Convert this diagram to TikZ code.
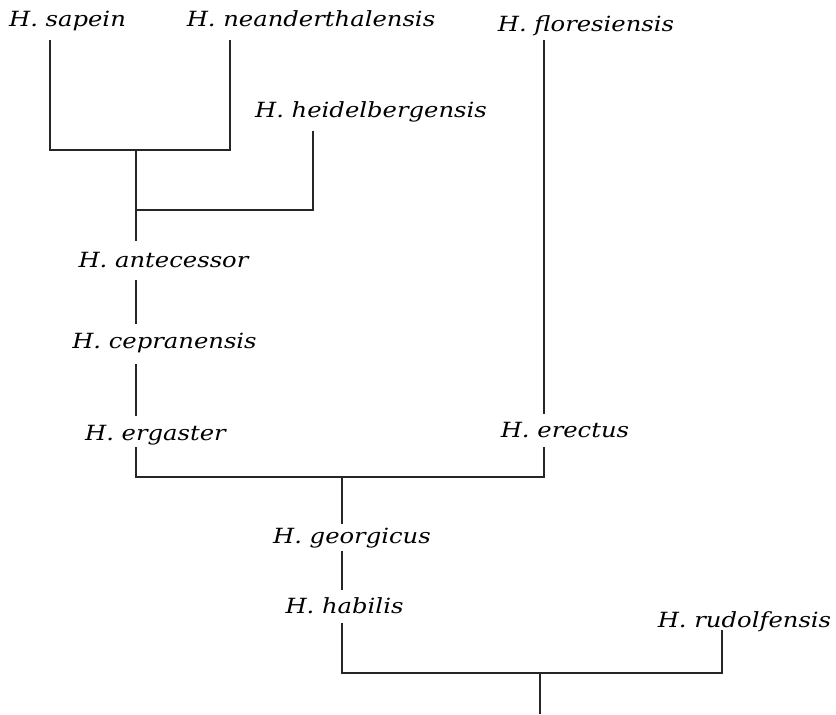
\documentclass[tikz,border=0pt]{standalone}
\usepackage{fontspec}
\setmainfont{DejaVu Serif}
\newfontfamily\lblfont[FakeStretch=1.16,ItalicFont={* Italic}]{DejaVu Serif}
\usetikzlibrary{calc}
\begin{document}
\begin{tikzpicture}[x=1bp,y=-1bp,
  lbl/.style={anchor=base,inner sep=0pt,font=\lblfont\fontsize{21}{24}\selectfont\itshape},
  branch/.style={line width=1.8bp,line cap=rect,black!85}]
\useasboundingbox[fill=white] (0,0) rectangle (836,715);
% labels
\node[lbl] (sap) at (67.5,27) {H. sapein};
\node[lbl] (nea) at (311,27) {H. neanderthalensis};
\node[lbl] (flo) at (586,32) {H. floresiensis};
\node[lbl] (hei) at (371,118) {H. heidelbergensis};
\node[lbl] (ant) at (163.5,267) {H. antecessor};
\node[lbl] (cep) at (164.5,348) {H. cepranensis};
\node[lbl] (erg) at (155.5,440) {H. ergaster};
\node[lbl] (ere) at (565,437) {H. erectus};
\node[lbl] (geo) at (352,543) {H. georgicus};
\node[lbl] (hab) at (344.5,613) {H. habilis};
\node[lbl] (rud) at (744.5,627) {H. rudolfensis};
% junctions
\coordinate (j1) at (136,150);
\coordinate (j2) at (136,210);
\coordinate (j3) at (342,477);
\coordinate (j4) at (540,673);
\coordinate (root) at (540,713);
% branches
\draw[branch] ($(sap.base)+(-17.5,14)$) |- (j1) -| ($(nea.base)+(-81,14)$);
\draw[branch] (j1) -- (j2);
\draw[branch] (j2) -| ($(hei.base)+(-58,14)$);
\draw[branch] (j2) -- ($(ant.base)+(-27.5,-27)$);
\draw[branch] ($(ant.base)+(-27.5,14)$) -- ($(cep.base)+(-28.5,-25)$);
\draw[branch] ($(cep.base)+(-28.5,17)$) -- ($(erg.base)+(-19.5,-25)$);
\draw[branch] ($(erg.base)+(-19.5,8)$) |- (j3) -| ($(ere.base)+(-21,11)$);
\draw[branch] ($(flo.base)+(-42,9)$) -- ($(ere.base)+(-21,-24)$);
\draw[branch] (j3) -- ($(geo.base)+(-10,-20)$);
\draw[branch] ($(geo.base)+(-10,9)$) -- ($(hab.base)+(-2.5,-24)$);
\draw[branch] ($(hab.base)+(-2.5,11)$) |- (j4) -| ($(rud.base)+(-22.5,4)$);
\draw[branch] (j4) -- (root);
\end{tikzpicture}
\end{document}
